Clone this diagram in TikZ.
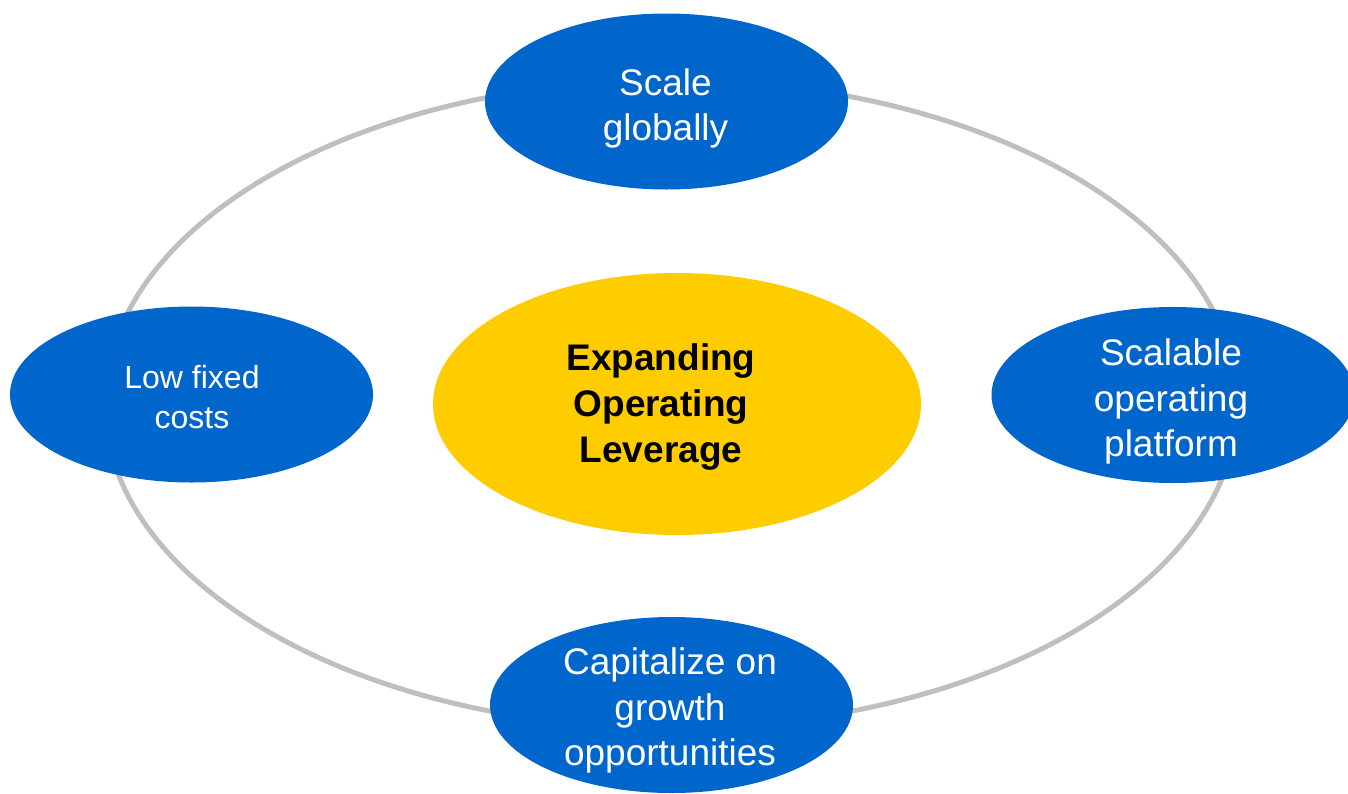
\documentclass[tikz,border=0pt]{standalone}
\usepackage{fontspec}
\setmainfont{Liberation Sans}
\usetikzlibrary{shapes.geometric}

\definecolor{blobblue}{HTML}{0066CC}
\definecolor{hubyellow}{HTML}{FFCC00}
\definecolor{ringgray}{HTML}{BFBFBF}

\begin{document}
\begin{tikzpicture}[x=1pt,y=-1pt,
  ringline/.style={ellipse, draw=ringgray, line width=5pt, inner sep=0pt,
    minimum width=1132pt, minimum height=648pt},
  blob/.style={ellipse, fill=blobblue, inner sep=0pt,
    minimum width=363pt, minimum height=176pt},
  hub/.style={ellipse, fill=hubyellow, inner sep=0pt,
    minimum width=488pt, minimum height=262pt},
  bluetext/.style={text=white, align=center, inner sep=0pt,
    font=\fontsize{37}{45.5}\selectfont},
  smalltext/.style={bluetext, font=\fontsize{32}{40.6}\selectfont},
  hubtext/.style={text=black, align=center, inner sep=0pt,
    font=\fontsize{37}{46}\selectfont\bfseries}]

  \useasboundingbox (0,0) rectangle (1348,793);
  \clip (0,0) rectangle (1348,793);

  % the cycle that links the four drivers
  \node[ringline] (ring) at (671,404) {};

  % four drivers
  \node[blob] (scale)    at (666.5,101.5) {};
  \node[blob] (fixed)    at (191.5,394.5) {};
  \node[blob] (platform) at (1173,395) {};
  \node[blob] (growth)   at (671.5,705) {};

  % central goal
  \node[hub] (lever) at (677,404) {};

  % labels
  \node[bluetext]  (scale-t)    at (665.5,108.5) {Scale\\globally};
  \node[smalltext] (fixed-t)    at (192,397)     {Low fixed\\costs};
  \node[bluetext]  (platform-t) at (1171,401.5)  {Scalable\\operating\\platform};
  \node[bluetext]  (growth-t)   at (670,710.5)   {Capitalize on\\growth\\opportunities};
  \node[hubtext]   (lever-t)    at (661,407.5)   {Expanding\\Operating\\Leverage};
\end{tikzpicture}
\end{document}
